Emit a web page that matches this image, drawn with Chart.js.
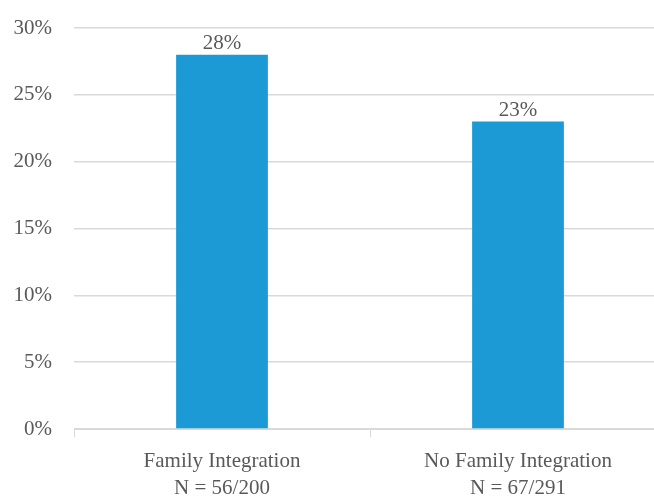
<!doctype html>
<html lang="en">
<head>
  <meta charset="utf-8">
  <title>Family Integration</title>
  <script src="https://cdn.jsdelivr.net/npm/chart.js@4"></script>
  <style>
    html, body { margin: 0; padding: 0; overflow: hidden; background: #fff; }
    .wrap { width: 666px; height: 496px; }
  </style>
</head>
<body>
  <div class="wrap">
    <canvas id="canvas" width="666" height="496"></canvas>
  </div>
  <script>
    // valores
    var categorias = [
      ['Family Integration', 'N = 56/200'],
      ['No Family Integration', 'N = 67/291']
    ];
    var valores = [28, 23];
    var rotulos = ['28%', '23%'];
    var ticksY = [0, 5, 10, 15, 20, 25, 30];

    var fonte = 'Liberation Serif';
    var cinza = '#595959';

    // escreve o valor em cima de cada barra
    var rotuloBarras = {
      id: 'rotuloBarras',
      afterDatasetsDraw: function(chart) {
        var ctx = chart.ctx;
        var meta = chart.getDatasetMeta(0);
        ctx.save();
        ctx.font = '21px "' + fonte + '"';
        ctx.fillStyle = cinza;
        ctx.textAlign = 'center';
        ctx.textBaseline = 'bottom';
        meta.data.forEach(function(bar, i) {
          ctx.fillText(rotulos[i], bar.x, bar.y - 1);
        });
        ctx.restore();
      }
    };

    var ctx = document.getElementById('canvas').getContext('2d');
    var grafico = new Chart(ctx, {
      type: 'bar',
      data: {
        labels: categorias,
        datasets: [{
          data: valores,
          backgroundColor: '#1b9ad6',
          categoryPercentage: 1,
          barPercentage: 0.31
        }]
      },
      options: {
        responsive: false,
        animation: false,
        layout: { padding: { top: 28, left: 0, right: 0, bottom: 0 } },
        plugins: {
          legend: { display: false },
          tooltip: { enabled: false }
        },
        scales: {
          x: {
            afterFit: function(s) { s.height = 67; },
            border: { color: '#d9d9d9', width: 1 },
            grid: { drawOnChartArea: false, tickLength: 8, color: '#d9d9d9', offset: true },
            ticks: {
              color: cinza,
              padding: 11,
              font: { family: fonte, size: 21, lineHeight: 1.3 }
            }
          },
          y: {
            min: 0,
            max: 30,
            afterFit: function(s) {
              s.width = 74;
              s.paddingTop = 0;
              s.paddingBottom = 0;
            },
            afterBuildTicks: function(s) {
              s.ticks = ticksY.map(function(v) { return { value: v }; });
            },
            border: { display: false },
            grid: { color: '#d9d9d9', lineWidth: 1.5, drawTicks: false },
            ticks: {
              color: cinza,
              padding: 22,
              font: { family: fonte, size: 21 },
              callback: function(v) { return v + '%'; }
            }
          }
        }
      },
      plugins: [rotuloBarras]
    });
  </script>
</body>
</html>
